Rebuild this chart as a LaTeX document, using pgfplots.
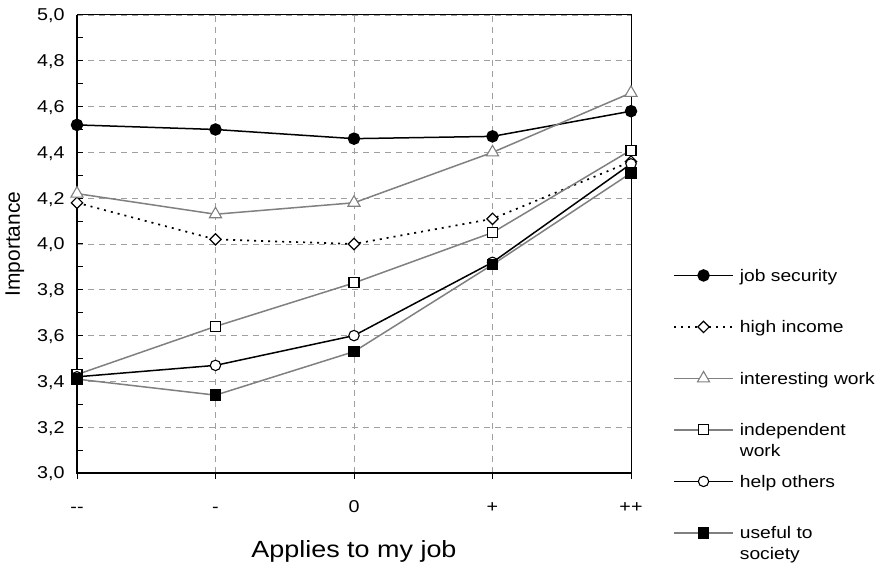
\documentclass[border=0pt]{standalone}
\usepackage{fontspec}
\setmainfont{Liberation Sans}[FakeStretch=1.15]
\newfontfamily\plainsans{Liberation Sans}
\usepackage{pgfplots}
\pgfplotsset{compat=1.18}
\definecolor{linegray}{RGB}{128,128,128}
\definecolor{gridgray}{RGB}{160,160,160}
% fixed height/depth so every legend row has the same pitch
\newcommand{\cell}[1]{\raisebox{0pt}[13bp][2bp]{#1}}
\renewcommand{\arraystretch}{1.05}

\begin{document}
\begin{tikzpicture}
\useasboundingbox (0,0) rectangle (882bp,568bp);
\begin{axis}[
        scale only axis,
        width=554bp,
        height=458bp,
        at={(77bp,95bp)},
        anchor=south west,
        xmin=0, xmax=4,
        ymin=3, ymax=5,
        xtick={0,1,2,3,4},
        xticklabels={{-}{-},{-},0,{+},{+}{+}},
        ytick={3,3.2,3.4,3.6,3.8,4,4.2,4.4,4.6,4.8,5},
        minor y tick num=1,
        tick pos=left,
        ytick align=inside,
        xtick align=outside,
        major tick length=6bp,
        minor tick length=6bp,
        tick style={black, line width=1bp},
        xmajorgrids=true,
        ymajorgrids=true,
        grid style={gridgray, line width=0.8bp, dash pattern=on 6bp off 5bp},
        axis line style={black, line width=1bp},
        clip=false,
        tick label style={font=\fontsize{17.2}{20}\selectfont},
        yticklabel style={
                /pgf/number format/fixed,
                /pgf/number format/fixed zerofill,
                /pgf/number format/precision=1,
                /pgf/number format/use comma,
                /pgf/number format/assume math mode=true,
                text depth=0pt, xshift=-9bp},
        xticklabel style={text height=12bp, text depth=0pt, yshift=-18bp},
        xlabel={Applies to my job},
        xlabel style={at={(axis description cs:0.5,-0.185)}, anchor=base,
                font=\fontsize{23.5}{28}\selectfont},
        ylabel={Importance},
        ylabel style={at={(axis description cs:-0.112,0.5)}, anchor=center,
                font=\plainsans\fontsize{21}{25}\selectfont},
        legend image code/.code={
                \draw[mark repeat=2, mark phase=2]
                plot coordinates {(0bp,0bp) (29.5bp,0bp) (59bp,0bp)};},
        legend style={
                draw=none, fill=none,
                at={(1.0758,0.4476)},
                anchor=north west,
                inner sep=0pt,
                row sep=37bp,
                column sep=6bp,
                cells={anchor=west},
                nodes={inner sep=0pt},
                font=\fontsize{16.8}{20}\selectfont,
            },
    ]

    \addplot[black, line width=1.5bp,
        mark=*, mark size=5.5bp,
        mark options={fill=black, solid}]
    coordinates {(0,4.52) (1,4.50) (2,4.46) (3,4.47) (4,4.58)};
    \addlegendentry{\cell{job security}}

    \addplot[black, line width=1.7bp, dash pattern=on 2bp off 5bp,
        mark=square*, mark size=4bp,
        mark options={fill=white, solid, rotate=45, line width=1.2bp}]
    coordinates {(0,4.18) (1,4.02) (2,4.00) (3,4.11) (4,4.36)};
    \addlegendentry{\cell{high income}}

    \addplot[linegray, line width=1.5bp,
        mark=triangle*, mark size=7bp,
        mark options={fill=white, solid, line width=1.1bp}]
    coordinates {(0,4.22) (1,4.13) (2,4.18) (3,4.40) (4,4.66)};
    \addlegendentry{\cell{interesting work}}

    \addplot[linegray, line width=1.5bp,
        mark=square*, mark size=5bp,
        mark options={draw=black, fill=white, solid, line width=1.1bp}]
    coordinates {(0,3.43) (1,3.64) (2,3.83) (3,4.05) (4,4.41)};
    \addlegendentry{\cell{\begin{tabular}[t]{@{}l@{}}independent\\work\end{tabular}}}

    \addplot[black, line width=1.5bp,
        mark=*, mark size=5.2bp,
        mark options={fill=white, solid, line width=1.1bp}]
    coordinates {(0,3.42) (1,3.47) (2,3.60) (3,3.92) (4,4.35)};
    \addlegendentry{\cell{help others}}

    \addplot[linegray, line width=1.5bp,
        mark=square*, mark size=5bp,
        mark options={draw=black, fill=black, solid}]
    coordinates {(0,3.41) (1,3.34) (2,3.53) (3,3.91) (4,4.31)};
    \addlegendentry{\cell{\begin{tabular}[t]{@{}l@{}}useful to\\society\end{tabular}}}

    \draw[black, line width=2bp] (axis description cs:0,1) -- (axis description cs:0,0) -- (axis description cs:1,0);
\end{axis}
\end{tikzpicture}
\end{document}
